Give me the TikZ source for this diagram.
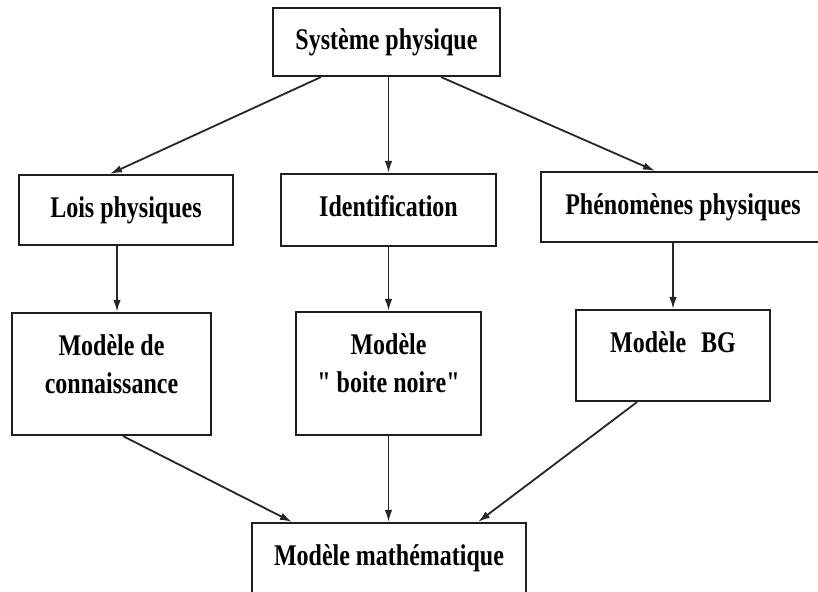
\documentclass[tikz,border=0pt]{standalone}
\usepackage{fontspec}
\setmainfont{Liberation Serif}[FakeStretch=0.8, Ligatures=TeXOff]
\usetikzlibrary{arrows.meta}
\newcommand{\bxt}[3]{\parbox[c][#2][t]{#1}{\fontsize{30}{38}\selectfont\bfseries\centering\rule{0pt}{42pt}#3}}
\begin{document}
\begin{tikzpicture}[x=1pt,y=-1pt,
  boxnode/.style={draw=black!88, line width=2.2pt, inner sep=0pt, fill=white},
  arr/.style={draw=black!85, line width=1.8pt, -{Latex[length=12pt,width=7.5pt]}}]
\useasboundingbox (0,0) rectangle (818,591);
\clip (0,0) rectangle (818,591);
\fill[white] (0,0) rectangle (818,591);
\node[boxnode] (sys)   at (386.5,42)   {\bxt{227pt}{68pt}{Système physique}};
\node[boxnode] (lois)  at (126,210)    {\bxt{214pt}{70pt}{Lois physiques}};
\node[boxnode] (ident) at (388.5,210)  {\bxt{215pt}{72pt}{Identification}};
\node[boxnode] (phen)  at (683,207)    {\bxt{284pt}{70pt}{Phénomènes physiques}};
\node[boxnode] (conn)  at (111.5,374)  {\bxt{199pt}{122pt}{Modèle de\\connaissance}};
\node[boxnode] (boite) at (388.5,373.5){\bxt{185pt}{123pt}{Modèle\\" boite noire"}};
\node[boxnode] (bg)    at (673,355.5)  {\bxt{194pt}{91pt}{Modèle\hspace{15pt}BG}};
\node[boxnode] (math)  at (389,571.5)  {\bxt{274pt}{97pt}{Modèle mathématique}};
\draw[arr] ([xshift=49pt]sys.south west) -- ([xshift=-16pt]lois.north);
\draw[arr] (ident.north |- sys.south) -- (ident.north);
\draw[arr] ([xshift=-60pt]sys.south east) -- ([xshift=-28pt]phen.north);
\draw[arr] ([xshift=-9pt]lois.south) -- ([xshift=-9pt]lois.south |- conn.north);
\draw[arr] (ident.south) -- (boite.north);
\draw[arr] (bg.north |- phen.south) -- (bg.north);
\draw[arr] ([xshift=11.5pt]conn.south) -- ([xshift=41pt]math.north west);
\draw[arr] (boite.south) -- (boite.south |- math.north);
\draw[arr] ([xshift=-36pt]bg.south) -- ([xshift=-49pt]math.north east);
\end{tikzpicture}
\end{document}
